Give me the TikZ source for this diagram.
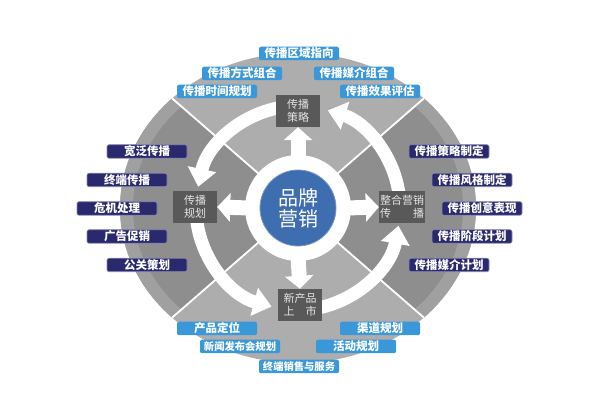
\documentclass[tikz,border=0pt]{standalone}
\usepackage{fontspec}
\setmainfont{Noto Sans CJK SC}
\usetikzlibrary{arrows.meta,calc}
\definecolor{gLight}{HTML}{ADADAD}
\definecolor{gDark}{HTML}{8E8E8E}
\definecolor{gRim}{HTML}{A0A0A0}
\definecolor{boxGrey}{HTML}{595959}
\definecolor{navy}{HTML}{2B296E}
\definecolor{skyb}{HTML}{3A98D8}
\definecolor{coreBlue}{HTML}{3E6DB0}
\begin{document}
\begin{tikzpicture}[x=1pt,y=1pt,
 lbl/.style={rounded corners=2pt, minimum width=80pt, minimum height=13.5pt, inner sep=0pt, text=white, font=\fontsize{11.5}{12}\selectfont\bfseries},
 navylbl/.style={lbl, fill=navy, draw=navy!55!white, line width=0.6pt},
 bluelbl/.style={lbl, fill=skyb},
 longlbl/.style={font=\fontsize{10.3}{12}\selectfont\bfseries},
 stepbox/.style={fill=boxGrey, minimum width=44pt, minimum height=32pt, inner sep=1pt, align=center, text=white!90!black, font=\fontsize{11}{13}\selectfont},
 ringarrow/.style={draw=white, line width=13pt, -{Triangle[width=28pt,length=18pt]}},
 spoke/.style={draw=white, line width=15pt, -{Triangle[width=28pt,length=13pt]}},
 divider/.style={draw=white, line width=1.8pt}
]
\useasboundingbox (0,0) rectangle (600,420);
\coordinate (C) at (298,212);
% outer shape
\fill[gLight] (C) ellipse [x radius=178, y radius=155];
\fill[gRim] (C) -- ++(135:178 and 155) arc[start angle=135, end angle=225, x radius=178, y radius=155] -- cycle;
\fill[gRim] (C) -- ++(-45:178 and 155) arc[start angle=-45, end angle=45, x radius=178, y radius=155] -- cycle;
\fill[gDark] (C) -- ++(135:165 and 143) arc[start angle=135, end angle=225, x radius=165, y radius=143] -- cycle;
\fill[gDark] (C) -- ++(-45:165 and 143) arc[start angle=-45, end angle=45, x radius=165, y radius=143] -- cycle;
% dividers
\coordinate (d1) at ($(C)+(45:178 and 155)$);
\coordinate (d2) at ($(C)+(135:178 and 155)$);
\coordinate (d3) at ($(C)+(225:178 and 155)$);
\coordinate (d4) at ($(C)+(315:178 and 155)$);
\draw[divider] (C) -- (d1);
\draw[divider] (C) -- (d2);
\draw[divider] (C) -- (d3);
\draw[divider] (C) -- (d4);
% ring arrows (counter-clockwise)
\draw[ringarrow] ($(C)+(98:102)$) arc[start angle=98, end angle=168, radius=102];
\draw[ringarrow] ($(C)+(188:102)$) arc[start angle=188, end angle=255, radius=102];
\draw[ringarrow] ($(C)+(282:102)$) arc[start angle=282, end angle=350, radius=102];
\draw[ringarrow] ($(C)+(8:102)$) arc[start angle=8, end angle=73, radius=102];
% step boxes
\node[stepbox] (top) at (298,309) {传播\\策略};
\node[stepbox] (left) at (195,213) {传播\\规划};
\node[stepbox] (right) at (402,213) {整合营销\\传　　播};
\node[stepbox] (bottom) at (300,115) {新产品\\上　市};
% center
\node[circle, fill=white, minimum size=106pt, inner sep=0pt] (ring) at (C) {};
\node[circle, fill=coreBlue, draw=coreBlue!70!white, line width=0.8pt, minimum size=76pt, inner sep=0pt, text=white, align=center, font=\fontsize{20}{21}\selectfont] (core) at (C) {品牌\\营销};
% spokes
\draw[spoke] (ring.north) ++(0,-4) -- (top.south);
\draw[spoke] (ring.west) ++(4,0) -- (left.east);
\draw[spoke] (ring.east) ++(-4,0) -- (right.west);
\draw[spoke] (ring.south) ++(0,4) -- (bottom.north);
% top labels
\node[bluelbl] (t1) at (299,366.5) {传播区域指向};
\node[bluelbl] (t2) at (242,346.5) {传播方式组合};
\node[bluelbl] (t3) at (354,346.5) {传播媒介组合};
\node[bluelbl] (t4) at (217,328.5) {传播时间规划};
\node[bluelbl] (t5) at (380,328.5) {传播效果评估};
% left labels
\node[navylbl] (l1) at (147,268.5) {宽泛传播};
\node[navylbl] (l2) at (127,240) {终端传播};
\node[navylbl] (l3) at (117,211.5) {危机处理};
\node[navylbl] (l4) at (127,183.5) {广告促销};
\node[navylbl] (l5) at (147,155) {公关策划};
% right labels
\node[navylbl] (r1) at (449,268.5) {传播策略制定};
\node[navylbl] (r2) at (472,240) {传播风格制定};
\node[navylbl] (r3) at (482,211.5) {传播创意表现};
\node[navylbl] (r4) at (472,183.5) {传播阶段计划};
\node[navylbl] (r5) at (449,155) {传播媒介计划};
% bottom labels
\node[bluelbl] (b1) at (217,91.5) {产品定位};
\node[bluelbl] (b2) at (380,91.5) {渠道规划};
\node[bluelbl, longlbl] (b3) at (240,73.5) {新闻发布会规划};
\node[bluelbl] (b4) at (356,73.5) {活动规划};
\node[bluelbl, longlbl] (b5) at (299,53.5) {终端销售与服务};
\end{tikzpicture}
\end{document}
